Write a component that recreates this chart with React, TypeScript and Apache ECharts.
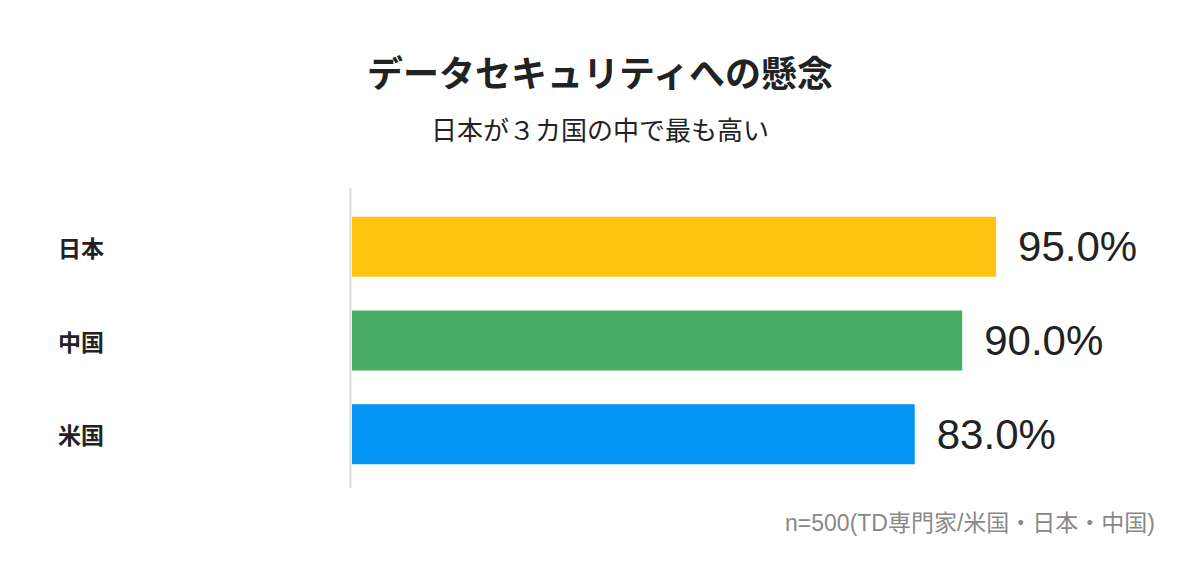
import React, { useEffect, useRef } from "react";
import * as echarts from "echarts";

const categories = ["日本", "中国", "米国"];
const values = [95.0, 90.0, 83.0];
const barColors = ["#FFC412", "#4AAB62", "#0495F4"];

const titleText = "データセキュリティへの懸念";
const subtitleText = "日本が３カ国の中で最も高い";
const noteText = "n=500(TD専門家/米国・日本・中国)";

const FONT = '"Noto Sans CJK JP", "Noto Sans", sans-serif';
const LATIN_FONT = '"Liberation Sans", "Noto Sans CJK JP", sans-serif';

export default function App() {
  const chartRef = useRef<HTMLDivElement>(null);

  useEffect(() => {
    document.body.style.margin = "0";
    if (!chartRef.current) return;
    const chart = echarts.init(chartRef.current, null, { renderer: "svg" });

    const option: echarts.EChartsOption = {
      animation: false,
      backgroundColor: "#ffffff",
      textStyle: { fontFamily: FONT },
      title: [
        {
          text: titleText,
          left: "center",
          top: 48,
          textStyle: {
            fontSize: 36,
            lineHeight: 36,
            fontWeight: "bold",
            color: "#222222",
            fontFamily: FONT,
          },
        },
        {
          text: subtitleText,
          left: "center",
          top: 110,
          textStyle: {
            fontSize: 26,
            lineHeight: 26,
            fontWeight: "normal",
            color: "#222222",
            fontFamily: FONT,
          },
        },
      ],
      grid: { left: 352, right: 170, top: 200, height: 281 },
      xAxis: {
        type: "value",
        min: 0,
        max: 100,
        show: false,
      },
      yAxis: {
        type: "category",
        data: categories,
        inverse: true,
        axisLine: { show: false },
        axisTick: { show: false },
        axisLabel: {
          align: "left",
          margin: 294,
          fontSize: 23,
          fontWeight: "bold",
          color: "#222222",
          fontFamily: FONT,
        },
      },
      graphic: [
        {
          type: "line",
          shape: { x1: 350.5, y1: 188, x2: 350.5, y2: 488 },
          style: { stroke: "#dcdcdc", lineWidth: 2 },
        },
        {
          type: "text",
          x: 1155,
          y: 523,
          style: {
            text: noteText,
            align: "right",
            verticalAlign: "middle",
            fontSize: 23,
            fontWeight: "normal",
            fill: "#888888",
            fontFamily: LATIN_FONT,
          },
        },
      ],
      series: [
        {
          type: "bar",
          barWidth: 60,
          data: values.map((v, i) => ({
            value: v,
            itemStyle: { color: barColors[i] },
          })),
          label: {
            show: true,
            position: "right",
            distance: 22,
            formatter: (p: any) => Number(p.value).toFixed(1) + "%",
            fontSize: 42,
            color: "#222222",
            fontFamily: LATIN_FONT,
          },
        },
      ],
    };

    chart.setOption(option);
    return () => {
      chart.dispose();
    };
  }, []);

  return <div ref={chartRef} style={{ width: 1200, height: 584 }} />;
}
